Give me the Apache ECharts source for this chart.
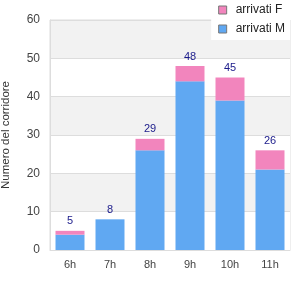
<!DOCTYPE html>
<html>
<head>
<meta charset="utf-8">
<script src="https://cdn.jsdelivr.net/npm/echarts@6/dist/echarts.min.js"></script>
<style>
  html, body { margin: 0; padding: 0; background: #fff; }
  #chart { width: 300px; height: 300px; }
</style>
</head>
<body>
<div id="chart"></div>
<script>
const categories = ["6h", "7h", "8h", "9h", "10h", "11h"];
const arrivatiM = [4, 8, 26, 44, 39, 21];
const arrivatiF = [1, 0, 3, 4, 6, 5];
const totals = [5, 8, 29, 48, 45, 26];

const chart = echarts.init(document.getElementById("chart"));

const option = {
  animation: false,
  textStyle: { fontFamily: "Liberation Sans, Arial, sans-serif" },
  grid: {
    show: true,
    left: 50,
    right: 10,
    top: 20,
    bottom: 50,
    containLabel: false,
    outerBoundsMode: "none",
    borderColor: "#dddddd",
    borderWidth: 1,
    backgroundColor: "transparent",
  },
  legend: {
    orient: "vertical",
    right: 10,
    top: 0,
    backgroundColor: "#ffffff",
    padding: [4, 5, 5, 7],
    itemGap: 7,
    itemWidth: 8,
    itemHeight: 8,
    icon: "rect",
    itemStyle: { borderColor: "#777", borderWidth: 1 },
    data: ["arrivati F", "arrivati M"],
    textStyle: { fontSize: 12, color: "#222", padding: [0, 0, 0, 4] },
  },
  xAxis: {
    type: "category",
    data: categories,
    axisLine: { lineStyle: { color: "#dddddd" } },
    axisTick: { show: false },
    axisLabel: { color: "#444", fontSize: 11, margin: 9 },
  },
  yAxis: {
    type: "value",
    min: 0,
    max: 60,
    interval: 10,
    name: "Numero del corridore",
    nameLocation: "middle",
    nameGap: 38,
    nameTextStyle: { color: "#333", fontSize: 11.5 },
    axisLine: { show: true, lineStyle: { color: "#dddddd" } },
    axisTick: { show: false },
    axisLabel: { color: "#444", fontSize: 12, margin: 10 },
    splitLine: { lineStyle: { color: "#dddddd" } },
    splitArea: { show: true, areaStyle: { color: ["#ffffff", "#f2f2f2"] } },
  },
  series: [
    {
      name: "arrivati M",
      type: "bar",
      stack: "tot",
      barWidth: 29,
      data: arrivatiM,
      itemStyle: { color: "#60a8f2" },
    },
    {
      name: "arrivati F",
      type: "bar",
      stack: "tot",
      barWidth: 29,
      data: arrivatiF,
      itemStyle: { color: "#f285bd" },
      label: {
        show: true,
        position: "top",
        distance: 4,
        color: "#1a1a8a",
        fontSize: 11,
        formatter: p => totals[p.dataIndex],
      },
    },
  ],
};

chart.setOption(option);
</script>
</body>
</html>
